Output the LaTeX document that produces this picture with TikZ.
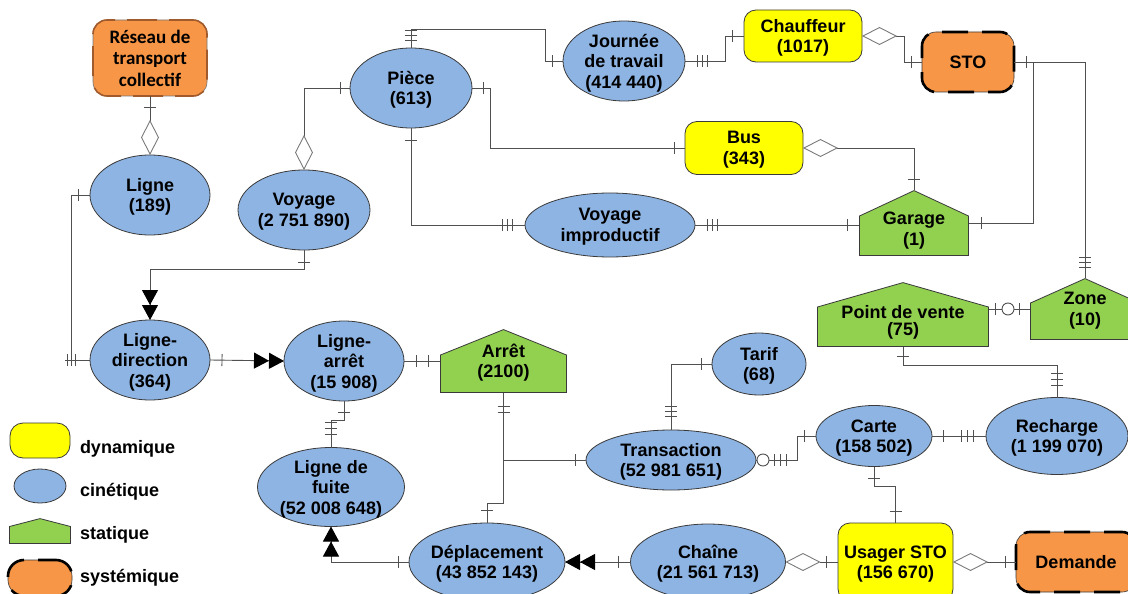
\documentclass[tikz,border=0pt]{standalone}
\usepackage{fontspec}
\setmainfont{Liberation Sans}
\newfontfamily\calibfont{Carlito}
\usetikzlibrary{shapes.geometric,arrows.meta,decorations.markings,calc}
\definecolor{dynfill}{HTML}{FFFF00}
\definecolor{cinfill}{HTML}{8EB4E3}
\definecolor{stafill}{HTML}{92D050}
\definecolor{sysfill}{HTML}{F79646}
\definecolor{edgec}{HTML}{3A3A3A}
\definecolor{linec}{HTML}{505050}
\definecolor{diac}{HTML}{7A7A7A}
\definecolor{resdash}{HTML}{A05A2C}
\tikzset{
  txt/.style={font=\fontsize{18}{20.5}\selectfont\bfseries, align=center, text=black, inner sep=0pt, outer sep=0pt},
  cine/.style={txt, ellipse, draw=edgec, line width=0.8pt, fill=cinfill, inner sep=-3pt, text depth=0pt},
  dyna/.style={txt, rectangle, rounded corners=12pt, draw=edgec, line width=0.8pt, fill=dynfill, text depth=0pt},
  syst/.style={txt, rectangle, rounded corners=14pt, draw=edgec, line width=0.6pt, fill=sysfill,
     postaction={draw=black, line width=2.6pt, dash pattern=on 26pt off 14pt, dash phase=8pt}},
  house/.style={txt, rectangle, text depth=0pt, path picture={
     \path[fill=stafill, draw=edgec, line width=0.8pt]
       ([shift={(0.5pt,0.5pt)}]path picture bounding box.south west) --
       ([shift={(0.5pt,-#1)}]path picture bounding box.north west) --
       ([shift={(0pt,-0.6pt)}]path picture bounding box.north) --
       ([shift={(-0.5pt,-#1)}]path picture bounding box.north east) --
       ([shift={(-0.5pt,0.5pt)}]path picture bounding box.south east) -- cycle;}},
  con/.style={draw=linec, line width=0.9pt},
  tickln/.style={arrows=-, draw=linec, line width=0.9pt},
  tk/.style={postaction={decorate,decoration={markings,
     mark=at position #1 with {\draw[tickln] (0pt,-6pt) -- (0pt,6pt);}}}},
  oring/.style={postaction={decorate,decoration={markings,
     mark=at position #1 with {\draw[tickln,fill=white] (0pt,0pt) circle[radius=6pt];}}}},
  dstart/.style={{Diamond[open,length=35pt,width=18pt,color=diac]}-},
  dend/.style={-{Diamond[open,length=35pt,width=18pt,color=diac]}},
  ttend/.style={-{Triangle[length=15pt,width=16pt,color=black]Triangle[length=15pt,width=16pt,color=black]}},
  legtxt/.style={txt, anchor=west},
}
\begin{document}
\begin{tikzpicture}[x=1pt,y=-1pt]
\useasboundingbox (0,0) rectangle (1128,594);
\fill[white] (0,0) rectangle (1128,594);
\clip (0,0) rectangle (1128,594);

% ---------- nodes ----------
\node[rectangle, rounded corners=14pt, draw=edgec!70, line width=0.6pt, fill=sysfill,
      minimum width=114pt, minimum height=76pt, align=center, inner sep=0pt, outer sep=0pt,
      font=\calibfont\fontsize{19}{21.5}\selectfont\bfseries,
      postaction={draw=resdash, line width=1.6pt, dash pattern=on 30pt off 12pt, dash phase=6pt}]
      (reseau) at (150,58) {Réseau de\\transport\\collectif};
\node[cine, minimum width=120pt, minimum height=80pt] (ligne) at (150,195) {Ligne\\(189)};
\node[cine, minimum width=132pt, minimum height=80pt] (voyage) at (304,210) {Voyage\\(2 751 890)};
\node[cine, minimum width=122pt, minimum height=80pt] (piece) at (411,88) {Pièce\\(613)};
\node[cine, minimum width=122pt, minimum height=80pt] (journee) at (624,61) {Journée\\de travail\\(414 440)};
\node[dyna, minimum width=118pt, minimum height=52pt] (chauffeur) at (803,36) {Chauffeur\\(1017)};
\node[syst, minimum width=92pt, minimum height=60pt] (sto) at (968,62) {STO};
\node[dyna, minimum width=118pt, minimum height=53pt] (bus) at (744,148) {Bus\\(343)};
\node[house=26pt, minimum width=110pt, minimum height=66pt] (garage) at (914,223)
      {\begin{tabular}{@{}c@{}}Garage\\(1)\end{tabular}};
\node[cine, minimum width=170pt, minimum height=64pt] (vi) at (610,225) {Voyage\\improductif};
\node[cine, minimum width=120pt, minimum height=80pt] (ld) at (150,360) {Ligne-\\direction\\(364)};
\node[cine, minimum width=120pt, minimum height=80pt] (la) at (344,361) {Ligne-\\arrêt\\(15 908)};
\node[house=26pt, minimum width=127pt, minimum height=64pt] (arret) at (503.5,361) {Arrêt\\(2100)};
\node[house=25pt, minimum width=172pt, minimum height=65pt] (pdv) at (903,314.5)
      {\raisebox{-1.5pt}[\height][\depth]{\begin{tabular}{@{}c@{}}Point de vente\\[-3.5pt](75)\end{tabular}}};
\node[house=25pt, minimum width=110pt, minimum height=62pt] (zone) at (1085,309) {Zone\\(10)};
\node[cine, minimum width=94pt, minimum height=62pt] (tarif) at (759,364) {Tarif\\(68)};
\node[cine, minimum width=170pt, minimum height=60pt] (transaction) at (671,460) {Transaction\\(52 981 651)};
\node[cine, minimum width=116pt, minimum height=61pt] (carte) at (874,436) {Carte\\(158 502)};
\node[cine, minimum width=142pt, minimum height=77pt] (recharge) at (1057,436) {Recharge\\(1 199 070)};
\node[cine, minimum width=147pt, minimum height=79pt] (ldf) at (331,487) {Ligne de\\fuite\\(52 008 648)};
\node[cine, minimum width=156pt, minimum height=78pt] (deplacement) at (487,562) {Déplacement\\(43 852 143)};
\node[cine, minimum width=155pt, minimum height=76pt] (chaine) at (708,562) {Chaîne\\(21 561 713)};
\node[dyna, minimum width=115pt, minimum height=78pt] (usager) at (895.5,562) {Usager STO\\(156 670)};
\node[syst, minimum width=120pt, minimum height=60pt] (demande) at (1076,562) {Demande};

% ---------- legend ----------
\node[dyna, minimum width=60pt, minimum height=35pt, rounded corners=13pt] (lgdyn) at (40,440.5) {};
\node[cine, minimum width=52pt, minimum height=34pt] (lgcin) at (40,486) {};
\node[house=8.5pt, minimum width=62pt, minimum height=26pt] (lgsta) at (40,531) {};
\node[syst, minimum width=64pt, minimum height=36pt, rounded corners=16pt] (lgsys) at (40,578) {};
\node[legtxt] (ldyn) at (80,449) {dynamique};
\node[legtxt] (lcin) at (80,492) {cinétique};
\node[legtxt] (lsta) at (80,535) {statique};
\node[legtxt] (lsys) at (80,578) {systémique};

% ---------- connectors ----------
\draw[con, tk=11pt, dend] (reseau.south) -- (ligne.north);
\draw[con, tk=12pt] (ligne.west) -- ++(-19,0) |- (ld.west);
\draw[con, tk=15pt, tk=19pt, tk=23pt] (ld.west) -- ++(-25,0);
\draw[con, dstart, tk=-10pt] (voyage.north) |- (piece.west);
\draw[con, tk=12pt, ttend] (voyage.south) -- ++(0,19) -| (ld.north);
\draw[con, tk=12pt, ttend] (ld.east) -- (la.west);
\draw[con, tk=12pt, tk=-12pt] (la.east) -- (arret.west);
\draw[con, tk=11pt, tk=-25pt, tk=-19pt, tk=-13pt] (la.south) -- ++(0,19) -| (ldf.north);
\draw[con, tk=8pt, tk=13pt, tk=18pt, tk=-11pt] (piece.north) -- ++(0,-19) -| ($(journee.west)+(-18,0)$) -- (journee.west);
\draw[con, tk=12pt, tk=17pt, tk=22pt, tk=-12pt] (journee.east) -- ++(40,0) |- (chauffeur.west);
\draw[con, dstart, tk=-11pt] (chauffeur.east) -- ++(42,0) |- (sto.west);
\draw[con, tk=11pt, tk=-11pt] (piece.east) -- ++(18,0) |- (bus.west);
\draw[con, dstart, tk=-11pt] (bus.east) -| (garage.north);
\draw[con, tk=12pt, tk=-23pt, tk=-18pt, tk=-13pt] (piece.south) |- (vi.west);
\draw[con, tk=12pt, tk=17pt, tk=22pt, tk=-12pt] (vi.east) -- (vi.east -| garage.west);
\draw[con, tk=12pt, tk=-12pt] (sto.east) -- ++(19,0) |- (garage.east);
\draw[con, tk=-21pt, tk=-16pt, tk=-11pt] (sto.east) -| (zone.north);
\draw[con, tk=6pt, oring=19pt, tk=-11pt] (pdv.east |- zone.west) -- (zone.west);
\draw[con, tk=9pt, tk=-24pt, tk=-18pt, tk=-12pt] (pdv.south) -- ++(0,18) -| (recharge.north);
\draw[con, tk=11pt, tk=-24pt, tk=-19pt, tk=-14pt] (tarif.west) -| (transaction.north);
\draw[con, oring=7pt, tk=18pt, tk=24pt, tk=30pt, tk=-12pt] (transaction.east) -- ++(41,0) |- (carte.west);
\draw[con, tk=11pt, tk=-25pt, tk=-19pt, tk=-13pt] (carte.east) -- (recharge.west);
\draw[con, tk=12pt, tk=-12pt] (carte.south) -- ++(0,20) -| (usager.north);
\draw[con, tk=13pt, tk=19pt, tk=-13pt] (arret.south) -- ++(0,110) -| (deplacement.north);
\draw[con, tk=-11pt] (arret.south |- transaction.west) -- (transaction.west);
\draw[con, tk=11pt, ttend] (deplacement.west) -| (ldf.south);
\draw[con, tk=12pt, ttend] (chaine.west) -- (deplacement.east);
\draw[con, tk=12pt, dend] (usager.west) -- (chaine.east);
\draw[con, dstart, tk=-11pt] (usager.east) -- (demande.west);
\end{tikzpicture}
\end{document}
